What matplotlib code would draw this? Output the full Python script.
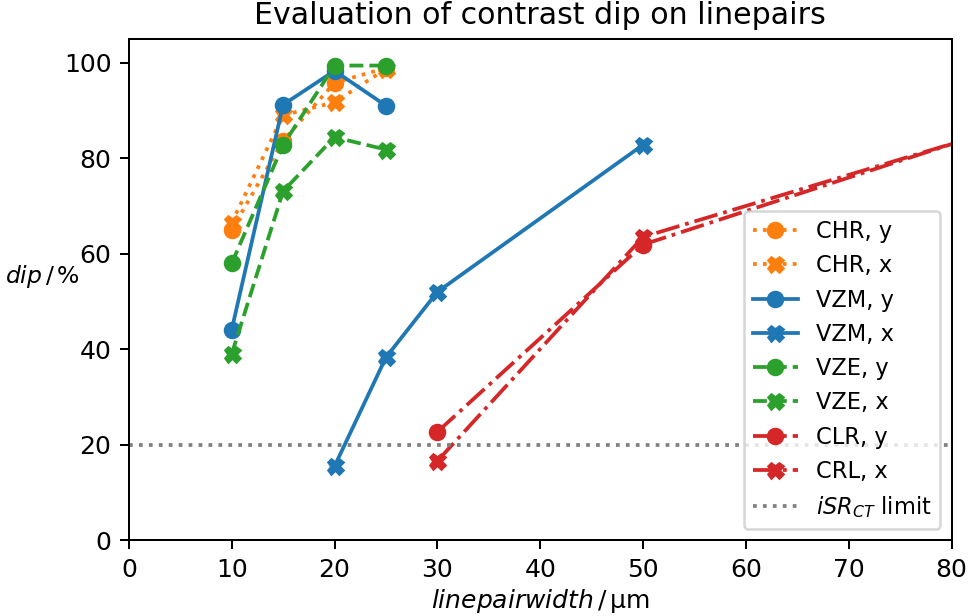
import numpy as np
import matplotlib
matplotlib.use('Agg')
from matplotlib import pyplot as plt

# linepair widths in um
x_chr = [10, 15, 20, 25]
x_vzm_y = [10, 15, 20, 25]
x_vzm_x = [20, 25, 30, 50]
x_vze = [10, 15, 20, 25]
x_clr = [30, 50, 100]

# dip in %
chr_y = [65.0, 83.7, 95.8, 98.9]
chr_x = [66.5, 89.0, 91.7, 98.7]
vzm_y = [44.1, 91.2, 98.3, 91.0]
vzm_x = [15.5, 38.3, 52.0, 82.8]
vze_y = [58.0, 82.8, 99.4, 99.4]
vze_x = [39.0, 73.1, 84.4, 81.8]
clr_y = [22.7, 61.9, 97.0]
crl_x = [16.6, 63.5, 96.0]

limit = 20

fig, ax = plt.subplots(figsize=(969/180, 616/180), dpi=180)
ax.plot(x_chr, chr_y, ':', color='tab:orange', marker='o', label='CHR, y')
ax.plot(x_chr, chr_x, ':', color='tab:orange', marker='X', label='CHR, x')
ax.plot(x_vzm_y, vzm_y, '-', color='tab:blue', marker='o', label='VZM, y')
ax.plot(x_vzm_x, vzm_x, '-', color='tab:blue', marker='X', label='VZM, x')
ax.plot(x_vze, vze_y, '--', color='tab:green', marker='o', label='VZE, y')
ax.plot(x_vze, vze_x, '--', color='tab:green', marker='X', label='VZE, x')
ax.plot(x_clr, clr_y, '-.', color='tab:red', marker='o', label='CLR, y')
ax.plot(x_clr, crl_x, '-.', color='tab:red', marker='X', label='CRL, x')
ax.axhline(limit, ls=':', color='gray', label='$iSR_{CT}$ limit')

ax.set_xlim(0, 80)
ax.set_ylim(0, 105)
ax.set_title('Evaluation of contrast dip on linepairs')
ax.set_xlabel('$linepairwidth\\,/\\,$µm', labelpad=2)
ax.set_ylabel('$dip\\,/\\,$%', rotation=0, ha='right', va='center', fontsize=9.4)
ax.yaxis.set_label_coords(-0.06, 0.525)
ax.legend(loc='lower right', fontsize=9)

plt.subplots_adjust(left=0.133, right=0.982, top=0.937, bottom=0.123)
plt.savefig('out.png', dpi=180)
